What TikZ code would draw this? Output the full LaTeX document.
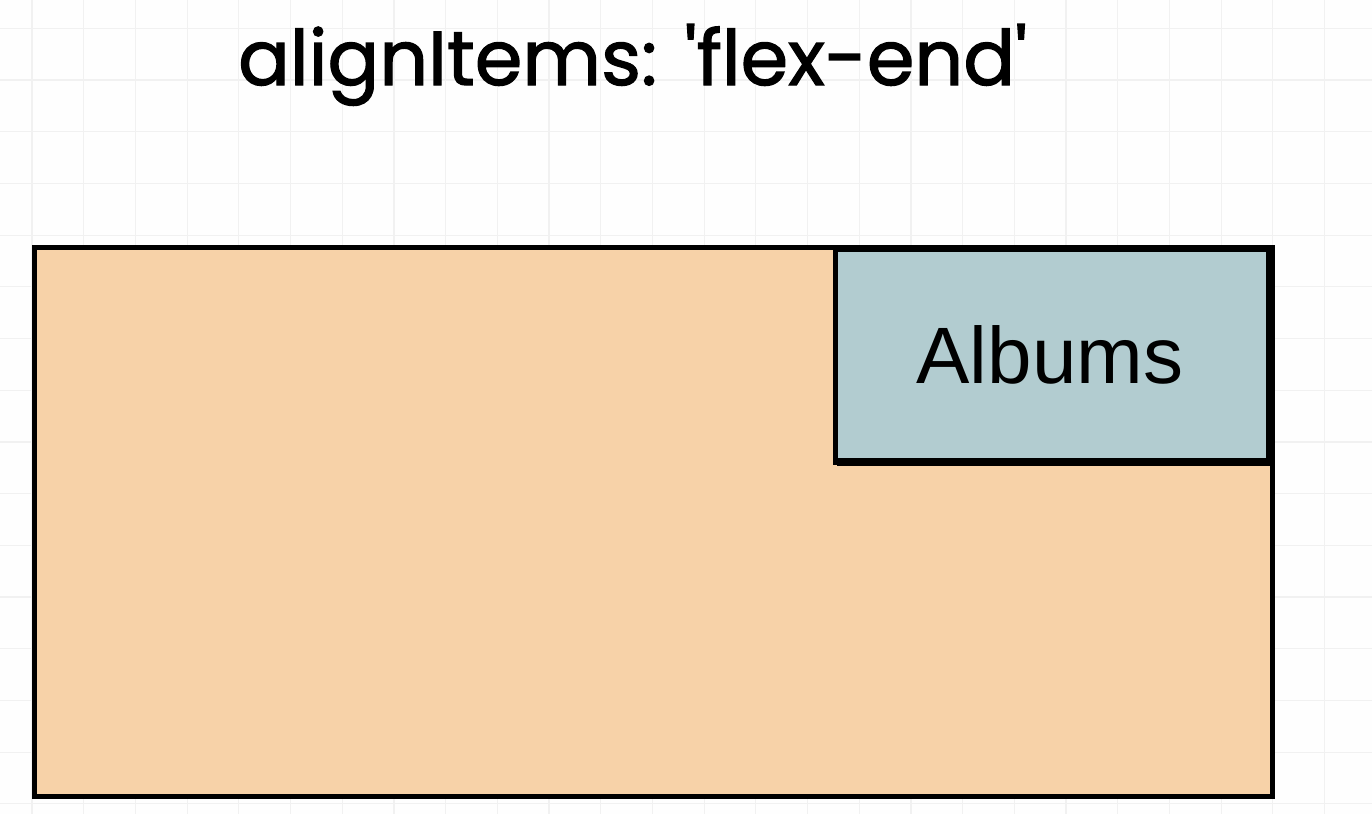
\documentclass[tikz,border=0pt]{standalone}
\usepackage{fontspec}
\setmainfont{Liberation Sans}
\newfontfamily\titlefont[FakeBold=1.6]{Poppins}
\definecolor{peach}{RGB}{247,210,168}
\definecolor{bluegrey}{RGB}{178,204,208}
\definecolor{gridc}{RGB}{241,241,241}
\begin{document}
\begin{tikzpicture}[x=1pt,y=-1pt,
  boxstyle/.style={draw=black, line width=5pt, inner sep=0pt, outer sep=0pt},
  container/.style={boxstyle, fill=peach, minimum width=1238pt, minimum height=549pt},
  item/.style={boxstyle, fill=bluegrey, minimum width=433pt, minimum height=213pt},
  itemtext/.style={anchor=base, inner sep=0pt, font=\fontsize{80}{80}\selectfont},
  titlestyle/.style={anchor=base west, inner sep=0pt, font=\titlefont\fontsize{76.5}{76.5}\selectfont}]
\useasboundingbox (0,0) rectangle (1372,814);
\fill[white!99!gray] (0,0) rectangle (1372,814);
\foreach \i in {0,...,26} {
  \draw[gridc, line width=1.2pt] ({32+51.7*\i},0) -- ({32+51.7*\i},814);
}
\foreach \j in {0,...,15} {
  \draw[gridc, line width=1.2pt] (0,{80+51.7*\j-51.7}) -- (1372,{80+51.7*\j-51.7});
}
\node[container] (outer) at (653,521.5) {};
\node[item] (albums) at (1051.5,355.5) {};
\node[itemtext] (albumslabel) at (1050,383) {Albums};
\draw[line width=8pt] ([xshift=2pt]albums.south west) -- ([xshift=2.5pt]albums.south east);
\node[titlestyle] (title) at (238,85) {alignItems: 'flex-end'};
\end{tikzpicture}
\end{document}
